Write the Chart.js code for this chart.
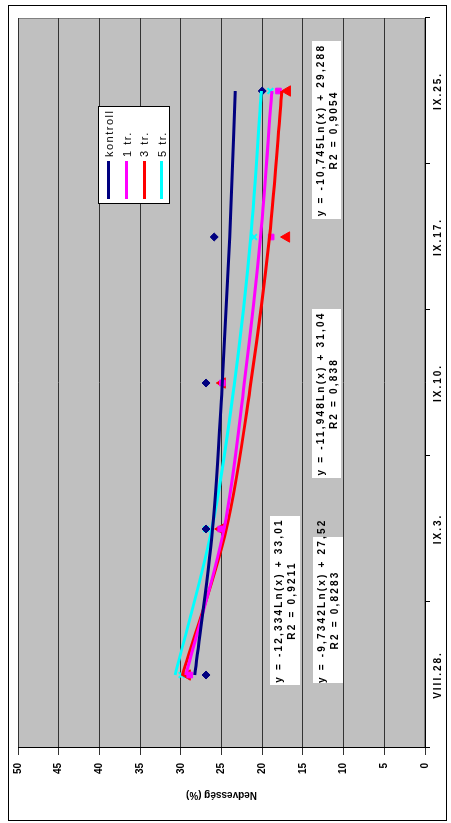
<!DOCTYPE html>
<html>
<head>
<meta charset="utf-8">
<script src="https://cdn.jsdelivr.net/npm/chart.js@4.4.0/dist/chart.umd.min.js"></script>
<style>
  html, body { margin: 0; padding: 0; background: #fff; overflow: hidden; }
  /* the whole chart is laid out landscape and then turned a quarter to the left */
  #page {
    position: absolute; left: 0; top: 0; width: 823px; height: 451px;
    transform-origin: 0 0; transform: translateY(823px) rotate(-90deg);
    font-family: "Liberation Sans", Arial, sans-serif;
  }
  #frame { position: absolute; left: 2px; top: 8px; width: 816px; height: 439px; border: 1px solid #000; box-sizing: border-box; }
  #chart { position: absolute; left: 0; top: 0; }
  #legend {
    position: absolute; left: 619px; top: 98px; width: 98px; height: 72px;
    background: #fff; border: 1px solid #000; box-sizing: border-box; padding-top: 1px;
  }
  #legend .row { height: 17.7px; display: flex; align-items: center; font-size: 11px; letter-spacing: 1.5px; }
  #legend .sw { width: 38px; height: 3px; margin: 0 4px 0 4px; }
  .eq {
    position: absolute; background: #fff; font-size: 10px; font-weight: bold;
    text-align: center; line-height: 13px; letter-spacing: 2.2px; white-space: nowrap;
  }
</style>
</head>
<body>
<div id="page">
  <div id="frame"></div>
  <canvas id="chart" width="823" height="451"></canvas>
  <div id="legend"></div>
</div>
<script>
const categories = ['VIII.28.', 'IX.3.', 'IX.10.', 'IX.17.', 'IX.25.'];
const seriesNames = ['kontroll', '1 tr.', '3 tr.', '5 tr.'];
const seriesColors = ['#000080', '#FF00FF', '#FF0000', '#00FFFF'];
const seriesMarkers = ['rectRot', 'rect', 'triangle', 'crossRot'];

// measured points
const kontroll = [26.9, 26.9, 26.9, 25.9, 20.0];
const tr1 = [28.9, 25.1, 24.9, 18.9, 18.0];
const tr3 = [29.2, 25.1, 24.9, 17.0, 16.9];
const tr5 = [29.9, 26.9, 24.9, 21.0, 19.0];

const kontrollTrend = [28.3, 26.1, 24.9, 24.0, 23.3];
const tr1Trend = [29.4, 24.7, 22.2, 20.2, 18.8];
const tr3Trend = [29.8, 24.4, 21.4, 19.1, 17.6];
const tr5Trend = [30.7, 26.2, 23.4, 21.4, 20.1];

const yTicks = [0, 5, 10, 15, 20, 25, 30, 35, 40, 45, 50];

const equations = [
  ['y = -12,334Ln(x) + 33,01', 'R2 = 0,9211'],
  ['y = -9,7342Ln(x) + 27,52', 'R2 = 0,8283'],
  ['y = -11,948Ln(x) + 31,04', 'R2 = 0,838'],
  ['y = -10,745Ln(x) + 29,288', 'R2 = 0,9054'],
];
// where the equation boxes sit (unrotated page px)
const eqBoxes = [
  { left: 138, top: 270, width: 169, height: 30 },
  { left: 140, top: 313, width: 146, height: 30 },
  { left: 345, top: 312, width: 169, height: 29 },
  { left: 604, top: 312, width: 178, height: 29 },
];

const points = [kontroll, tr1, tr3, tr5];
const trends = [kontrollTrend, tr1Trend, tr3Trend, tr5Trend];

const font = { family: '"Liberation Sans", Arial, sans-serif', weight: 'bold', size: 10 };

const plotBg = {
  id: 'plotBg',
  beforeDraw(chart) {
    const { ctx, chartArea: a } = chart;
    ctx.save();
    ctx.fillStyle = '#C0C0C0';
    ctx.fillRect(a.left, a.top, a.right - a.left, a.bottom - a.top);
    ctx.strokeStyle = '#808080';
    ctx.lineWidth = 1;
    ctx.strokeRect(a.left + 0.5, a.top + 0.5, a.right - a.left - 1, a.bottom - a.top - 1);
    ctx.restore();
  },
};

// Excel spreads the date labels out a bit
const spacedDates = {
  id: 'spacedDates',
  beforeDraw(chart) {
    const xs = chart.scales.x;
    if (xs._spaced) return;
    const orig = xs.drawLabels;
    xs.drawLabels = function (area) {
      this.ctx.save();
      this.ctx.letterSpacing = '2px';
      orig.call(this, area);
      this.ctx.restore();
    };
    xs._spaced = true;
  },
};

const datasets = [];
trends.forEach((data, i) => {
  datasets.push({
    label: seriesNames[i],
    data,
    borderColor: seriesColors[i],
    borderWidth: 3,
    pointRadius: 0,
    tension: 0.4,
    cubicInterpolationMode: 'monotone',
    fill: false,
  });
});
points.forEach((data, i) => {
  datasets.push({
    label: seriesNames[i] + ' pont',
    data,
    showLine: false,
    pointStyle: seriesMarkers[i],
    pointRadius: seriesMarkers[i] === 'triangle' ? 6 : 4,
    pointBorderWidth: seriesMarkers[i] === 'crossRot' ? 2 : 1,
    pointBackgroundColor: seriesColors[i],
    pointBorderColor: seriesColors[i],
  });
});

new Chart(document.getElementById('chart'), {
  type: 'line',
  data: { labels: categories, datasets },
  plugins: [plotBg, spacedDates],
  options: {
    responsive: false,
    animation: false,
    devicePixelRatio: 1,
    layout: { padding: { top: 18, right: 18, left: 0, bottom: 0 } },
    plugins: { legend: { display: false }, tooltip: { enabled: false } },
    scales: {
      x: {
        type: 'category',
        offset: true,
        grid: { offset: true, drawOnChartArea: false, drawTicks: true, tickLength: 5, color: '#000' },
        border: { display: true, color: '#000' },
        ticks: { color: '#000', font, padding: 2, maxRotation: 0, autoSkip: false },
        afterFit: s => { s.height = 26; },
      },
      y: {
        min: 0,
        max: 50,
        afterBuildTicks: s => { s.ticks = yTicks.map(v => ({ value: v })); },
        grid: { color: '#333', tickLength: 7, drawTicks: true },
        border: { display: true, color: '#000' },
        ticks: { color: '#000', font, padding: 8 },
        title: { display: true, text: 'Nedvesség (%)', color: '#000', font, padding: { top: 22, bottom: 0 } },
        afterFit: s => { s.width = 75; },
      },
    },
  },
});

const legend = document.getElementById('legend');
seriesNames.forEach((name, i) => {
  const row = document.createElement('div');
  row.className = 'row';
  row.innerHTML = `<span class="sw" style="background:${seriesColors[i]}"></span><span>${name}</span>`;
  legend.appendChild(row);
});

const page = document.getElementById('page');
equations.forEach((lines, i) => {
  const b = eqBoxes[i];
  const div = document.createElement('div');
  div.className = 'eq';
  Object.assign(div.style, {
    left: b.left + 'px', top: b.top + 'px', width: b.width + 'px', height: b.height + 'px',
    paddingTop: '2px', boxSizing: 'border-box',
  });
  div.innerHTML = lines.join('<br>');
  page.appendChild(div);
});
</script>
</body>
</html>
